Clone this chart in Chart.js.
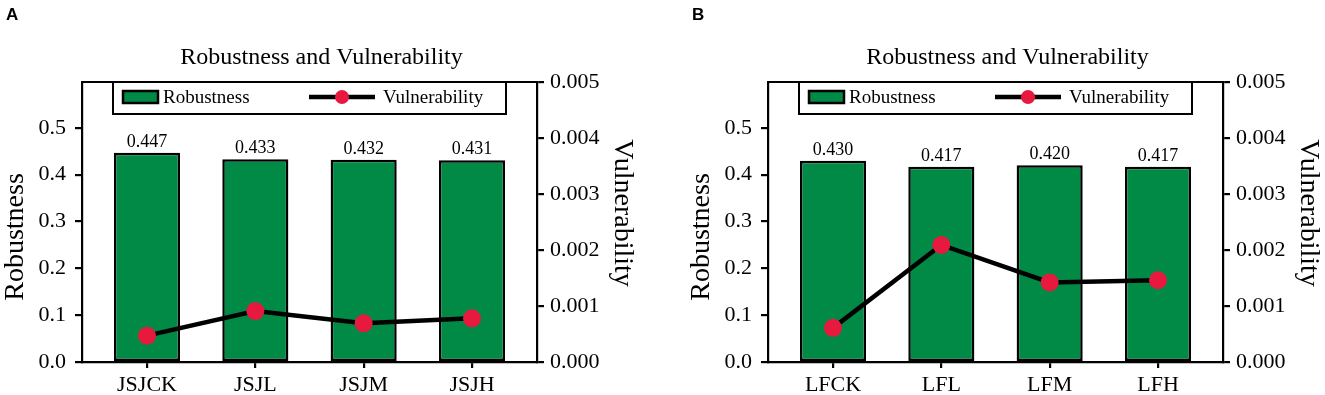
<!DOCTYPE html>
<html lang="en">
<head>
<meta charset="UTF-8">
<title>Robustness and Vulnerability</title>
<script src="https://cdn.jsdelivr.net/npm/chart.js"></script>
<style>
  body { margin: 0; background: #fff; overflow: hidden; }
  .panel { position: absolute; top: 0; }
  canvas { display: block; }
</style>
</head>
<body>
<div class="panel" style="left:0"><canvas id="chartA" width="686" height="395"></canvas></div>
<div class="panel" style="left:686px"><canvas id="chartB" width="639" height="395"></canvas></div>
<script>
// panel A
var labelsA = ['JSJCK', 'JSJL', 'JSJM', 'JSJH'];
var robustA = [0.447, 0.433, 0.432, 0.431];
var vulnA = [0.00047, 0.00091, 0.00069, 0.00078];

// panel B
var labelsB = ['LFCK', 'LFL', 'LFM', 'LFH'];
var robustB = [0.430, 0.417, 0.420, 0.417];
var vulnB = [0.00061, 0.00209, 0.00142, 0.00146];

// axis ticks
var robustTicks = [0, 0.1, 0.2, 0.3, 0.4, 0.5];
var vulnTicks = [0, 0.001, 0.002, 0.003, 0.004, 0.005];

var SERIF = '"Liberation Serif", "Times New Roman", serif';
var GREEN = '#008a45';
var RED = '#e8193f';

Chart.defaults.font.family = SERIF;
Chart.defaults.color = '#000';

// title, panel letter, axis titles, bar values, top frame and boxed legend
var decor = {
    id: 'decor',
    afterDatasetsDraw: function (chart) {
        var ctx = chart.ctx, a = chart.chartArea;
        var bars = chart.getDatasetMeta(1);
        var barData = chart.data.datasets[1].data;
        ctx.save();
        ctx.fillStyle = '#000';

        ctx.font = '18px ' + SERIF;
        ctx.textAlign = 'center';
        ctx.textBaseline = 'alphabetic';
        bars.data.forEach(function (el, i) {
            ctx.fillText(barData[i].y.toFixed(3), el.x, el.y - 6);
        });

        ctx.font = '24px ' + SERIF;
        ctx.fillText('Robustness and Vulnerability', (a.left + a.right) / 2 + 12, 64);

        // axis titles
        ctx.font = '28px ' + SERIF;
        ctx.textBaseline = 'middle';
        ctx.save();
        ctx.translate(16, a.top + 155);
        ctx.rotate(-Math.PI / 2);
        ctx.fillText('Robustness', 0, 0);
        ctx.restore();
        ctx.save();
        ctx.translate(a.right + 85, a.top + 131);
        ctx.rotate(Math.PI / 2);
        ctx.fillText('Vulnerability', 0, 0);
        ctx.restore();
        ctx.textBaseline = 'alphabetic';

        ctx.font = 'bold 17px "Liberation Sans", Arial, sans-serif';
        ctx.textAlign = 'left';
        ctx.fillText(chart.options.plugins.decor.letter, 6, 20);

        ctx.strokeStyle = '#000';
        ctx.lineWidth = 2;
        ctx.beginPath();
        ctx.moveTo(a.left - 1, a.top);
        ctx.lineTo(a.right + 1, a.top);
        ctx.stroke();

        // legend box
        var bx = a.left + 31, bw = a.right - a.left - 62, by = a.top, bh = 32;
        ctx.fillStyle = '#fff';
        ctx.fillRect(bx, by, bw, bh);
        ctx.strokeRect(bx, by, bw, bh);

        ctx.fillStyle = GREEN;
        ctx.fillRect(bx + 10, by + 9, 35, 12);
        ctx.lineWidth = 2.5;
        ctx.strokeRect(bx + 10, by + 9, 35, 12);

        ctx.fillStyle = '#000';
        ctx.font = '19px ' + SERIF;
        ctx.fillText('Robustness', bx + 50, by + 21);

        ctx.lineWidth = 4.5;
        ctx.beginPath();
        ctx.moveTo(bx + 196, by + 15);
        ctx.lineTo(bx + 262, by + 15);
        ctx.stroke();
        ctx.fillStyle = RED;
        ctx.beginPath();
        ctx.arc(bx + 229, by + 15, 7, 0, Math.PI * 2);
        ctx.fill();

        ctx.fillStyle = '#000';
        ctx.fillText('Vulnerability', bx + 270, by + 21);
        ctx.restore();
    }
};

function tickGrid() {
    return { drawOnChartArea: false, drawTicks: true, tickLength: 7, color: '#000', lineWidth: 2.2, offset: false };
}

function makeChart(id, letter, labels, robust, vuln) {
    var canvas = document.getElementById(id);
    var padRight = canvas.width - 637;
    return new Chart(canvas, {
        type: 'bar',
        data: {
            datasets: [{
                type: 'line',
                label: 'Vulnerability',
                yAxisID: 'y2',
                data: vuln.map(function (v, i) { return { x: i, y: v }; }),
                borderColor: '#000',
                borderWidth: 4.5,
                pointRadius: 9,
                pointHoverRadius: 9,
                pointBackgroundColor: RED,
                pointBorderWidth: 0,
                tension: 0,
                order: 0
            }, {
                type: 'bar',
                label: 'Robustness',
                yAxisID: 'y',
                data: robust.map(function (v, i) { return { x: i, y: v }; }),
                backgroundColor: GREEN,
                borderColor: '#000',
                borderWidth: 2.5,
                borderSkipped: false,
                categoryPercentage: 1,
                barPercentage: 0.61,
                order: 1
            }]
        },
        options: {
            responsive: false,
            animation: false,
            events: [],
            layout: { padding: { left: 0, right: padRight, top: 82, bottom: 0 } },
            plugins: {
                legend: { display: false },
                tooltip: { enabled: false },
                decor: { letter: letter }
            },
            scales: {
                x: {
                    type: 'linear',
                    position: 'bottom',
                    min: -0.6,
                    max: 3.6,
                    offset: false,
                    afterBuildTicks: function (s) { s.ticks = labels.map(function (_, i) { return { value: i }; }); },
                    afterFit: function (s) { s.height = 33; },
                    ticks: {
                        callback: function (v) { return labels[v]; },
                        autoSkip: false,
                        maxRotation: 0,
                        padding: 4,
                        font: { size: 22 }
                    },
                    grid: Object.assign(tickGrid(), { tickLength: 6 }),
                    border: { display: true, color: '#000', width: 2.2 }
                },
                y: {
                    position: 'left',
                    min: 0,
                    max: 0.598,
                    afterBuildTicks: function (s) { s.ticks = robustTicks.map(function (v) { return { value: v }; }); },
                    afterFit: function (s) { s.width = 82; },
                    ticks: {
                        callback: function (v) { return v.toFixed(1); },
                        padding: 9,
                        font: { size: 22 }
                    },
                    grid: tickGrid(),
                    border: { display: true, color: '#000', width: 2.2 }
                },
                y2: {
                    position: 'right',
                    min: 0,
                    max: 0.005,
                    afterBuildTicks: function (s) { s.ticks = vulnTicks.map(function (v) { return { value: v }; }); },
                    afterFit: function (s) { s.width = 100; },
                    ticks: {
                        callback: function (v) { return v.toFixed(3); },
                        padding: 6,
                        font: { size: 22 }
                    },
                    grid: tickGrid(),
                    border: { display: true, color: '#000', width: 2.2 }
                }
            }
        },
        plugins: [decor]
    });
}

makeChart('chartA', 'A', labelsA, robustA, vulnA);
makeChart('chartB', 'B', labelsB, robustB, vulnB);
</script>
</body>
</html>
